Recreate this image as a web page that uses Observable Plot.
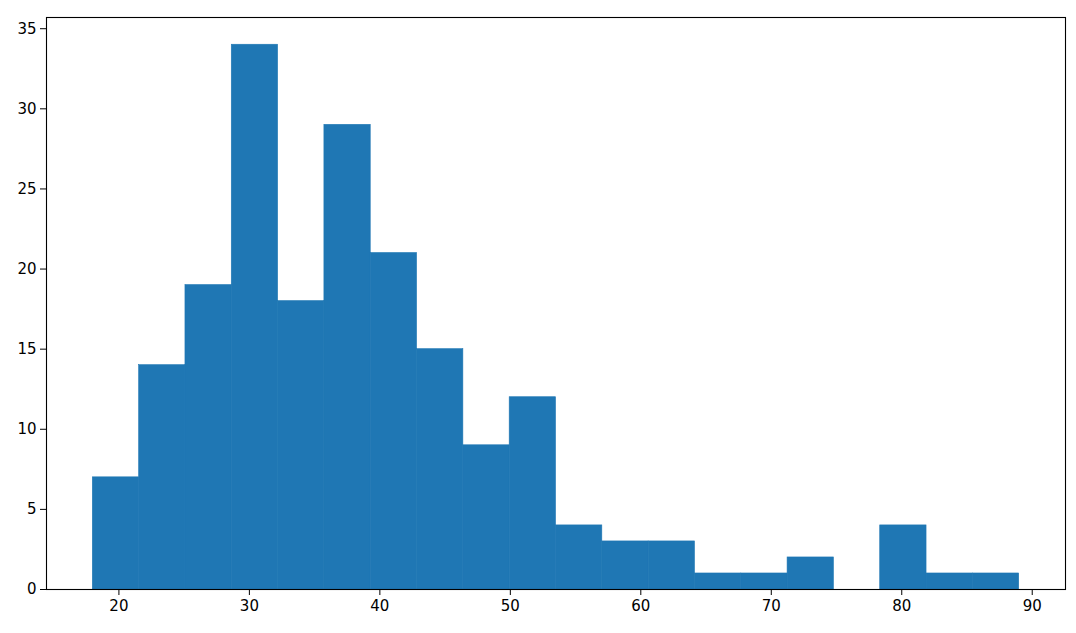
<!DOCTYPE html>
<html>
<head>
<meta charset="utf-8">
<script src="https://cdn.jsdelivr.net/npm/d3@7"></script>
<script src="https://cdn.jsdelivr.net/npm/@observablehq/plot@0.6"></script>
<style>
  html, body { margin: 0; padding: 0; background: #fff; }
</style>
</head>
<body>
<div id="chart"></div>
<script>
const binEdges = [18, 21.55, 25.1, 28.65, 32.2, 35.75, 39.3, 42.85, 46.4, 49.95, 53.5, 57.05, 60.6, 64.15, 67.7, 71.25, 74.8, 78.35, 81.9, 85.45, 89];
const counts = [7, 14, 19, 34, 18, 29, 21, 15, 9, 12, 4, 3, 3, 1, 1, 2, 0, 4, 1, 1];
const xTicks = [20, 30, 40, 50, 60, 70, 80, 90];
const yTicks = [0, 5, 10, 15, 20, 25, 30, 35];

const bins = counts.map((c, i) => ({x1: binEdges[i], x2: binEdges[i + 1], count: c}));

const chart = Plot.plot({
  width: 1076,
  height: 633,
  marginLeft: 46,
  marginRight: 11,
  marginTop: 17,
  marginBottom: 44,
  style: {fontFamily: "DejaVu Sans", fontSize: "15px", color: "#000", background: "#fff"},
  x: {domain: [14.45, 92.55]},
  y: {domain: [0, 35.7]},
  marks: [
    Plot.rectY(bins, {x1: "x1", x2: "x2", y: "count", fill: "#1f77b4", stroke: "#1f77b4", strokeWidth: 0.6, inset: 0}),
    Plot.frame({stroke: "#000", strokeWidth: 1.1}),
    Plot.axisX({ticks: xTicks, tickSize: 6, tickPadding: 5, label: null, tickFormat: d => d, fill: "#000"}),
    Plot.axisY({ticks: yTicks, tickSize: 6, tickPadding: 4, label: null, tickFormat: d => d, fill: "#000"})
  ]
});
document.getElementById("chart").appendChild(chart);
</script>
</body>
</html>
